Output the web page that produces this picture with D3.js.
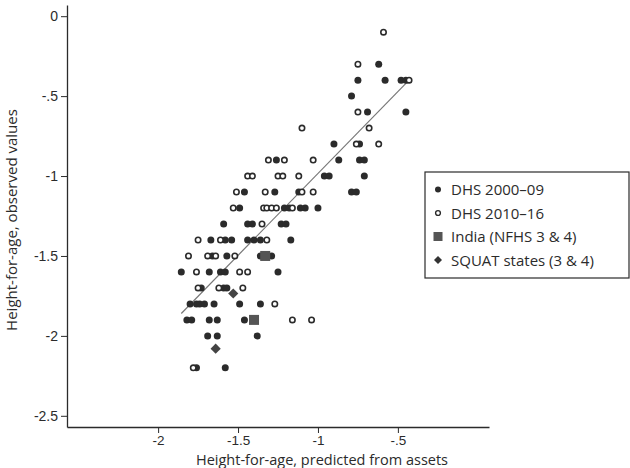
<!DOCTYPE html>
<html>
<head>
<meta charset="utf-8">
<script src="https://cdn.jsdelivr.net/npm/d3@7"></script>
<style>
  body { margin: 0; background: #fff; }
  svg { display: block; font-family: "Open Sans", "Noto Sans", sans-serif; }
</style>
</head>
<body>
<svg id="chart"></svg>
<script>
// DHS 2000-09 (filled circles): [predicted, observed]
const dhs0009 = [
  [-0.62, -0.3],
  [-0.75, -0.4], [-0.58, -0.4], [-0.48, -0.4], [-0.45, -0.4],
  [-0.79, -0.5],
  [-0.69, -0.6], [-0.45, -0.6],
  [-0.90, -0.8], [-0.74, -0.8],
  [-1.26, -0.9], [-0.87, -0.9], [-0.74, -0.9], [-0.71, -0.9],
  [-0.96, -1.0], [-0.93, -1.0], [-0.71, -1.0],
  [-1.46, -1.1], [-1.27, -1.1], [-1.12, -1.1], [-0.79, -1.1], [-0.76, -1.1],
  [-1.49, -1.2], [-1.21, -1.2], [-1.18, -1.2], [-1.11, -1.2], [-1.08, -1.2], [-1.00, -1.2],
  [-1.59, -1.3], [-1.44, -1.3], [-1.41, -1.3], [-1.23, -1.3], [-1.20, -1.3],
  [-1.67, -1.4], [-1.58, -1.4], [-1.54, -1.4], [-1.44, -1.4], [-1.40, -1.4], [-1.36, -1.4], [-1.17, -1.4],
  [-1.66, -1.5], [-1.57, -1.5], [-1.36, -1.5], [-1.29, -1.5],
  [-1.855, -1.6], [-1.68, -1.6], [-1.61, -1.6], [-1.58, -1.6], [-1.25, -1.6],
  [-1.73, -1.7], [-1.59, -1.7], [-1.57, -1.7],
  [-1.80, -1.8], [-1.76, -1.8], [-1.74, -1.8], [-1.71, -1.8], [-1.65, -1.8], [-1.49, -1.8], [-1.36, -1.8],
  [-1.82, -1.9], [-1.79, -1.9], [-1.68, -1.9], [-1.63, -1.9], [-1.46, -1.9],
  [-1.69, -2.0], [-1.63, -2.0], [-1.38, -2.0],
  [-1.76, -2.2], [-1.58, -2.2]
];

// DHS 2010-16 (open circles)
const dhs1016 = [
  [-0.59, -0.1],
  [-0.75, -0.3],
  [-0.43, -0.4],
  [-0.75, -0.6],
  [-1.10, -0.7], [-0.68, -0.7],
  [-0.76, -0.8], [-0.62, -0.8],
  [-1.31, -0.9], [-1.21, -0.9], [-1.03, -0.9],
  [-1.44, -1.0], [-1.41, -1.0], [-1.25, -1.0], [-1.22, -1.0], [-1.12, -1.0],
  [-1.51, -1.1], [-1.33, -1.1], [-1.10, -1.1], [-1.03, -1.1],
  [-1.53, -1.2], [-1.34, -1.2], [-1.32, -1.2], [-1.29, -1.2], [-1.26, -1.2], [-1.16, -1.2],
  [-1.35, -1.3],
  [-1.75, -1.4], [-1.61, -1.4], [-1.32, -1.4],
  [-1.81, -1.5], [-1.69, -1.5], [-1.64, -1.5], [-1.52, -1.5],
  [-1.76, -1.6], [-1.49, -1.6], [-1.44, -1.6],
  [-1.75, -1.7], [-1.62, -1.7], [-1.47, -1.7],
  [-1.27, -1.8],
  [-1.16, -1.9], [-1.04, -1.9],
  [-1.78, -2.2]
];

// India (NFHS 3 & 4) squares, SQUAT states diamonds
const india = [[-1.33, -1.5], [-1.40, -1.9]];
const squat = [[-1.53, -1.735], [-1.64, -2.08]];

// fitted line end points
const fitX = [-1.855, -0.43];
const fitY = [-1.86, -0.40];

const yTicks = [0, -0.5, -1, -1.5, -2, -2.5];
const xTicks = [-2, -1.5, -1, -0.5];
const legendLabels = ['DHS 2000\u201309', 'DHS 2010\u201316', 'India (NFHS 3 & 4)', 'SQUAT states (3 & 4)'];

const width = 630, height = 468;
const ink = '#2b2b2b';

const svg = d3.select('#chart')
    .attr('width', width)
    .attr('height', height);

const x = d3.scaleLinear().domain([-2.57, 0.07]).range([67, 489]);
const y = d3.scaleLinear().domain([-2.57, 0.07]).range([427, 5]);

const fmt = d => d === 0 ? '0' : ('-' + String(Math.abs(d)).replace(/^0/, ''));

// axes
const gy = svg.append('g')
    .attr('transform', `translate(${x.range()[0]},0)`)
    .call(d3.axisLeft(y).tickValues(yTicks).tickFormat(fmt).tickSize(6).tickSizeOuter(0).tickPadding(3));

const gx = svg.append('g')
    .attr('transform', `translate(0,${y.range()[0]})`)
    .call(d3.axisBottom(x).tickValues(xTicks).tickFormat(fmt).tickSize(6).tickSizeOuter(0).tickPadding(2));

[gy, gx].forEach(g => {
    g.select('.domain').attr('stroke', ink).attr('stroke-width', 1.3);
    g.selectAll('.tick line').attr('stroke', ink).attr('stroke-width', 1);
    g.selectAll('.tick text').attr('fill', ink).style('font-size', '14px').style('font-family', null);
});
gx.selectAll('.tick text').style('font-size', '13.5px');

// axis titles
svg.append('text')
    .attr('transform', `translate(17,${(y(0.07) + y(-2.57)) / 2 + 4}) rotate(-90)`)
    .attr('text-anchor', 'middle')
    .attr('fill', ink)
    .style('font-size', '15px')
    .text('Height-for-age, observed values');

svg.append('text')
    .attr('x', 322)
    .attr('y', 465)
    .attr('text-anchor', 'middle')
    .attr('fill', ink)
    .style('font-size', '14.5px')
    .text('Height-for-age, predicted from assets');

// fitted line
svg.append('line')
    .attr('x1', x(fitX[0])).attr('y1', y(fitY[0]))
    .attr('x2', x(fitX[1])).attr('y2', y(fitY[1]))
    .attr('stroke', '#777')
    .attr('stroke-width', 1.2);

const gPts = svg.append('g');

gPts.selectAll('.filled')
    .data(dhs0009)
    .enter().append('circle')
    .attr('class', 'filled')
    .attr('cx', d => x(d[0]))
    .attr('cy', d => y(d[1]))
    .attr('r', 3.5)
    .attr('fill', ink);

gPts.selectAll('.open')
    .data(dhs1016)
    .enter().append('circle')
    .attr('class', 'open')
    .attr('cx', d => x(d[0]))
    .attr('cy', d => y(d[1]))
    .attr('r', 2.7)
    .attr('fill', '#fff')
    .attr('stroke', ink)
    .attr('stroke-width', 1.6);

gPts.selectAll('.india')
    .data(india)
    .enter().append('rect')
    .attr('class', 'india')
    .attr('x', d => x(d[0]) - 5)
    .attr('y', d => y(d[1]) - 5)
    .attr('width', 10)
    .attr('height', 10)
    .attr('fill', '#555');

// diamond = square turned 45 degrees
const diamond = d3.symbol().type(d3.symbolSquare).size(52);
gPts.selectAll('.squat')
    .data(squat)
    .enter().append('path')
    .attr('class', 'squat')
    .attr('d', diamond)
    .attr('transform', d => `translate(${x(d[0])},${y(d[1])}) rotate(45)`)
    .attr('fill', '#444');

// legend
const lg = svg.append('g').attr('transform', 'translate(425,172)');
lg.append('rect')
    .attr('width', 204)
    .attr('height', 106)
    .attr('fill', '#fff')
    .attr('stroke', ink)
    .attr('stroke-width', 1.2);

const rows = lg.selectAll('.entry')
    .data(legendLabels)
    .enter().append('g')
    .attr('class', 'entry')
    .attr('transform', (d, i) => `translate(0,${17.5 + i * 23.5})`);

rows.append('text')
    .attr('x', 26)
    .attr('y', 5.5)
    .attr('fill', ink)
    .style('font-size', '15px')
    .text(d => d);

rows.each(function (d, i) {
    const g = d3.select(this);
    if (i === 0) {
        g.append('circle').attr('cx', 13).attr('cy', 0).attr('r', 3).attr('fill', ink);
    } else if (i === 1) {
        g.append('circle').attr('cx', 13).attr('cy', 0).attr('r', 2.4)
            .attr('fill', '#fff').attr('stroke', ink).attr('stroke-width', 1.4);
    } else if (i === 2) {
        g.append('rect').attr('x', 8.5).attr('y', -4.5).attr('width', 9).attr('height', 9).attr('fill', '#555');
    } else {
        g.append('path').attr('d', d3.symbol().type(d3.symbolSquare).size(32))
            .attr('transform', 'translate(13,0) rotate(45)').attr('fill', '#333');
    }
});
</script>
</body>
</html>
